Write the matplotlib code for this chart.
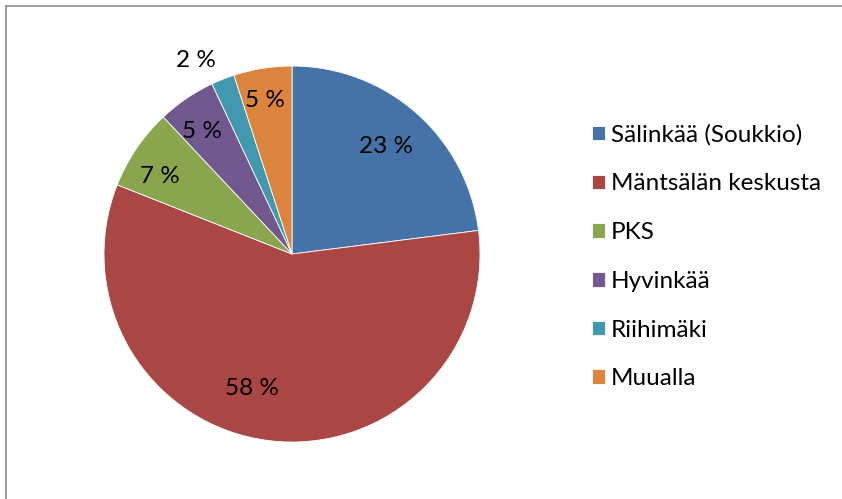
import numpy as np
import matplotlib.pyplot as plt
from matplotlib.lines import Line2D

plt.rcParams['font.family'] = ['Lato', 'DejaVu Sans']

# Data
labels = ["Sälinkää (Soukkio)", "Mäntsälän keskusta", "PKS", "Hyvinkää", "Riihimäki", "Muualla"]
values = [23, 58, 7, 5, 2, 5]
colors = ["#4572A7", "#AA4643", "#89A54E", "#71588F", "#4198AF", "#DB843D"]
# label placement: distance (fraction of radius) and angle nudge (deg)
label_dist = [0.76, 0.745, 0.815, 0.81, 1.147, 0.83]
label_nudge = [0, -9.5, 3.6, 2.0, 4.8, 1.0]

fig = plt.figure(figsize=(8.42, 4.99), dpi=100)
ax = fig.add_axes([0.1235, 0.1142, 0.4466, 0.7535])

wedges, _ = ax.pie(values, colors=colors, startangle=90, counterclock=False,
                   radius=1.0, wedgeprops=dict(edgecolor='white', linewidth=0.6))

for w, v, d, n in zip(wedges, values, label_dist, label_nudge):
    mid = np.deg2rad((w.theta1 + w.theta2) / 2 + n)
    ax.text(d * np.cos(mid), d * np.sin(mid), "%d %%" % v,
            ha='center', va='center', fontsize=17.5, color='black')

ax.set_xlim(-1, 1)
ax.set_ylim(-1, 1)
ax.set_aspect('equal')
ax.axis('off')

fig.legend(wedges, labels, loc='upper left', bbox_to_anchor=(0.703, 0.751),
           frameon=False, fontsize=17.5, handlelength=0.54, handleheight=0.54,
           handletextpad=0.25, labelspacing=1.14, borderaxespad=0, borderpad=0)

# chart-area border (only top and left visible)
fig.add_artist(Line2D([5.5 / 842, 1], [1 - 5.5 / 499, 1 - 5.5 / 499],
                      transform=fig.transFigure, color='#8c8c8c', lw=1.2))
fig.add_artist(Line2D([5.5 / 842, 5.5 / 842], [0, 1 - 5.5 / 499],
                      transform=fig.transFigure, color='#8c8c8c', lw=1.2))

fig.savefig("out.png", dpi=100)
